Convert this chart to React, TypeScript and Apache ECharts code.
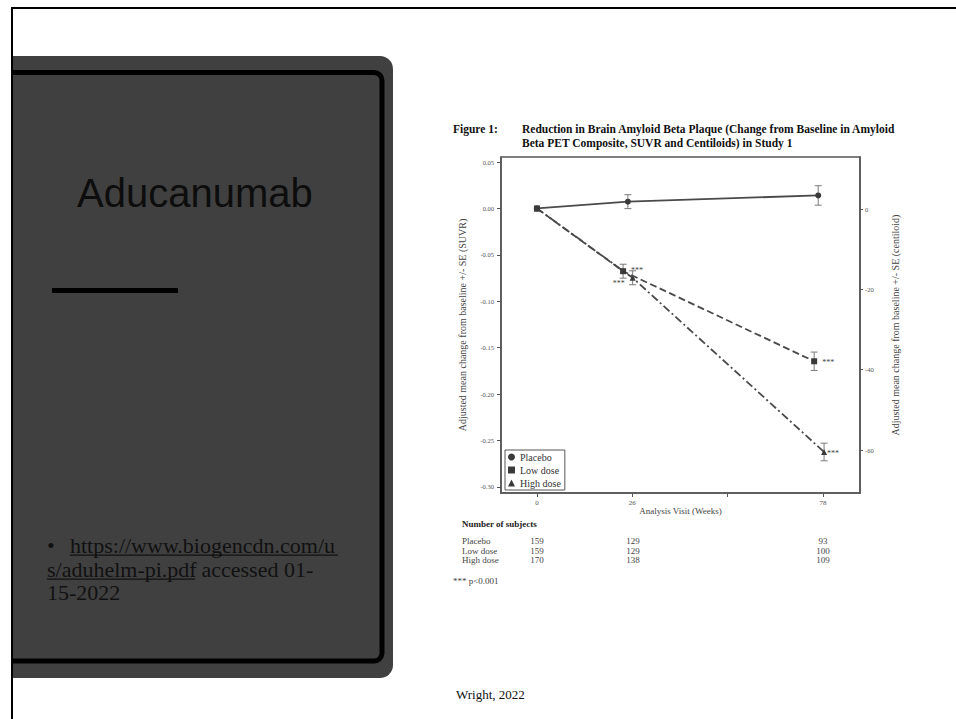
import React, { useEffect, useRef } from "react";
import * as echarts from "echarts";

// ---- data ----
const seriesNames = ["Placebo", "Low dose", "High dose"];
const weeksPlacebo = [0, 24.8, 76.7];
const weeksLow = [0, 23.5, 75.6];
const weeksHigh = [0, 26.1, 78.3];
const placeboMean = [0, 0.0073, 0.014];
const placeboSE = [0, 0.0075, 0.0105];
const lowMean = [0, -0.0676, -0.1646];
const lowSE = [0, 0.0075, 0.0099];
const highMean = [0, -0.0747, -0.2623];
const highSE = [0, 0.0075, 0.0095];
const lowSig = ["", "***", "***"];
const highSig = ["", "***", "***"];
const xTickValues = [0, 26, 52, 78];
const xLabelValues = [0, 26, 78];
const suvrTicks = [0.05, 0, -0.05, -0.1, -0.15, -0.2, -0.25, -0.3];
const centiloidTicks = [0, -20, -40, -60];
const subjectGroups = ["Placebo", "Low dose", "High dose"];
const placeboN = [159, 129, 93];
const lowN = [159, 129, 100];
const highN = [170, 138, 109];

const SERIF = "'Liberation Serif', 'Times New Roman', serif";
const SANS = "'Liberation Sans', Arial, sans-serif";

function errorBars(name: string, xs: number[], means: number[], ses: number[]) {
  const data = xs
    .map((x, i) => [x, means[i] - ses[i], means[i] + ses[i], ses[i]])
    .filter((d) => d[3] > 0);
  return {
    type: "custom",
    name: name + " SE",
    xAxisIndex: 0,
    yAxisIndex: 0,
    silent: true,
    z: 1,
    encode: { x: 0, y: [1, 2] },
    data,
    renderItem: (params: any, api: any) => {
      const x = api.value(0);
      const lo = api.coord([x, api.value(1)]);
      const hi = api.coord([x, api.value(2)]);
      const w = 3.5;
      const st = { stroke: "#7a7a7a", lineWidth: 1 };
      return {
        type: "group",
        children: [
          { type: "line", shape: { x1: lo[0], y1: lo[1], x2: hi[0], y2: hi[1] }, style: st },
          { type: "line", shape: { x1: lo[0] - w, y1: lo[1], x2: lo[0] + w, y2: lo[1] }, style: st },
          { type: "line", shape: { x1: hi[0] - w, y1: hi[1], x2: hi[0] + w, y2: hi[1] }, style: st },
        ],
      };
    },
  };
}

const sigLabelStyle: any[][] = [
  // low dose
  [null, { position: "right", distance: 5, offset: [0, -1] }, { position: "right", distance: 5, offset: [0, 1] }],
  // high dose
  [null, { position: "left", distance: 5, offset: [0, 6] }, { position: "right", distance: 0, offset: [0, 2] }],
];

function lineData(xs: number[], means: number[], sig: string[] | null, styleIdx: number) {
  return xs.map((x, i) => {
    const item: any = { value: [x, means[i]] };
    if (sig && sig[i]) {
      item.label = {
        show: true,
        formatter: sig[i],
        fontFamily: SERIF,
        fontSize: 8,
        color: "#444",
        ...sigLabelStyle[styleIdx][i],
      };
    }
    return item;
  });
}

export default function App() {
  const ref = useRef<HTMLDivElement>(null);
  useEffect(() => {
    if (!ref.current) return;
    const chart = echarts.init(ref.current, null, { renderer: "svg" });

    const tableRows = [placeboN, lowN, highN];
    const colX = [537, 633, 823];
    const rowY = [541, 550.5, 560];
    const tableTexts: any[] = [];
    subjectGroups.forEach((g, r) => {
      tableTexts.push({
        type: "text",
        x: 462,
        y: rowY[r],
        style: { text: g, fontFamily: SERIF, fontSize: 9, fill: "#444", verticalAlign: "middle", align: "left" },
      });
      tableRows[r].forEach((n, c) => {
        tableTexts.push({
          type: "text",
          x: colX[c],
          y: rowY[r],
          style: { text: String(n), fontFamily: SERIF, fontSize: 9, fill: "#444", verticalAlign: "middle", align: "center" },
        });
      });
    });

    const axisLine = { show: true, onZero: false, lineStyle: { color: "#555", width: 1.5 } };

    const option: any = {
      animation: false,
      backgroundColor: "#ffffff",
      grid: {
        left: 501,
        top: 157,
        width: 359,
        height: 336,
        show: true,
        borderColor: "#555",
        borderWidth: 1.5,
        backgroundColor: "transparent",
      },
      legend: {
        data: [
          { name: seriesNames[0], icon: "circle" },
          { name: seriesNames[1], icon: "rect" },
          { name: seriesNames[2], icon: "triangle" },
        ],
        orient: "vertical",
        left: 505,
        top: 450,
        itemWidth: 7,
        itemHeight: 7,
        itemGap: 3,
        padding: [2, 4, 2, 3],
        borderColor: "#555",
        borderWidth: 1,
        selectedMode: false,
        textStyle: { fontFamily: SERIF, fontSize: 10, color: "#333", padding: [0, 0, 0, 0] },
      },
      xAxis: {
        type: "value",
        min: -9.8,
        max: 88.1,
        name: "Analysis Visit (Weeks)",
        nameLocation: "middle",
        nameGap: 13,
        nameTextStyle: { fontFamily: SERIF, fontSize: 9, color: "#444" },
        axisLine,
        axisTick: { show: true, length: 4, customValues: xTickValues, lineStyle: { color: "#555" } },
        axisLabel: { customValues: xLabelValues, fontFamily: SERIF, fontSize: 7, color: "#555", margin: 6 },
        splitLine: { show: false },
      },
      yAxis: [
        {
          type: "value",
          min: -0.3065,
          max: 0.0554,
          position: "left",
          name: "Adjusted mean change from baseline +/- SE (SUVR)",
          nameLocation: "middle",
          nameRotate: 90,
          nameGap: 34,
          nameTextStyle: { fontFamily: SERIF, fontSize: 10, color: "#444" },
          axisLine,
          axisTick: { show: true, length: 4, customValues: suvrTicks, lineStyle: { color: "#555" } },
          axisLabel: {
            customValues: suvrTicks,
            fontFamily: SERIF,
            fontSize: 6.5,
            color: "#555",
            margin: 7,
            formatter: (v: number) => v.toFixed(2),
          },
          splitLine: { show: false },
        },
        {
          type: "value",
          min: -70.7,
          max: 12.95,
          position: "right",
          name: "Adjusted mean change from baseline +/- SE (centiloid)",
          nameLocation: "middle",
          nameRotate: 90,
          nameGap: 30,
          nameTextStyle: { fontFamily: SERIF, fontSize: 10, color: "#444" },
          axisLine,
          axisTick: { show: true, length: 3, customValues: centiloidTicks, lineStyle: { color: "#555" } },
          axisLabel: { customValues: centiloidTicks, fontFamily: SERIF, fontSize: 6.5, color: "#555", margin: 5 },
          splitLine: { show: false },
        },
      ],
      series: [
        errorBars(seriesNames[0], weeksPlacebo, placeboMean, placeboSE),
        errorBars(seriesNames[1], weeksLow, lowMean, lowSE),
        errorBars(seriesNames[2], weeksHigh, highMean, highSE),
        {
          type: "line",
          name: seriesNames[0],
          data: lineData(weeksPlacebo, placeboMean, null, 0),
          symbol: "circle",
          symbolSize: 6,
          itemStyle: { color: "#3a3a3a" },
          lineStyle: { color: "#4a4a4a", width: 1.8, type: "solid" },
          z: 3,
        },
        {
          type: "line",
          name: seriesNames[2],
          data: lineData(weeksHigh, highMean, highSig, 1),
          symbol: "triangle",
          symbolSize: 6,
          itemStyle: { color: "#3a3a3a" },
          lineStyle: { color: "#4a4a4a", width: 1.8, type: [8, 3, 2, 3] },
          z: 4,
        },
        {
          type: "line",
          name: seriesNames[1],
          data: lineData(weeksLow, lowMean, lowSig, 0),
          symbol: "rect",
          symbolSize: 6,
          itemStyle: { color: "#3a3a3a" },
          lineStyle: { color: "#4a4a4a", width: 1.8, type: [7, 3.5] },
          z: 5,
        },
      ],
      graphic: [
        // left dark panel
        {
          type: "rect",
          z: 0,
          shape: { x: 13, y: 56, width: 380, height: 622, r: [0, 13, 13, 0] },
          style: { fill: "#404040" },
        },
        {
          type: "rect",
          z: 1,
          shape: { x: -20, y: 72.5, width: 402, height: 588.5, r: 8 },
          style: { fill: "none", stroke: "#000", lineWidth: 5 },
        },
        // white cover to the left of the slide border
        { type: "rect", z: 2, shape: { x: 0, y: 0, width: 11, height: 719 }, style: { fill: "#fff" } },
        // slide border
        { type: "rect", z: 3, shape: { x: 11, y: 7, width: 945, height: 2 }, style: { fill: "#000" } },
        { type: "rect", z: 3, shape: { x: 11, y: 7, width: 2, height: 712 }, style: { fill: "#000" } },
        // panel title and rule
        {
          type: "text",
          z: 3,
          x: 77,
          y: 193,
          style: { text: "Aducanumab", fontFamily: SANS, fontSize: 40, fill: "#0d0d0d", verticalAlign: "middle", align: "left" },
        },
        { type: "rect", z: 3, shape: { x: 52, y: 288, width: 126, height: 5 }, style: { fill: "#000" } },
        // reference text
        {
          type: "text",
          z: 3,
          x: 47,
          y: 545,
          style: { text: "•", fontFamily: SERIF, fontSize: 22, fill: "#111", verticalAlign: "middle", align: "left" },
        },
        {
          type: "text",
          z: 3,
          x: 70,
          y: 545,
          style: { text: "https://www.biogencdn.com/u", fontFamily: SERIF, fontSize: 22, fill: "#111", verticalAlign: "middle", align: "left" },
        },
        { type: "rect", z: 3, shape: { x: 70, y: 554.5, width: 268, height: 1.2 }, style: { fill: "#111" } },
        {
          type: "text",
          z: 3,
          x: 47,
          y: 569,
          style: { text: "s/aduhelm-pi.pdf", fontFamily: SERIF, fontSize: 22, fill: "#111", verticalAlign: "middle", align: "left" },
        },
        { type: "rect", z: 3, shape: { x: 47, y: 578.5, width: 148, height: 1.2 }, style: { fill: "#111" } },
        {
          type: "text",
          z: 3,
          x: 196,
          y: 569,
          style: { text: " accessed 01-", fontFamily: SERIF, fontSize: 22, fill: "#111", verticalAlign: "middle", align: "left" },
        },
        {
          type: "text",
          z: 3,
          x: 47,
          y: 592.5,
          style: { text: "15-2022", fontFamily: SERIF, fontSize: 22, fill: "#111", verticalAlign: "middle", align: "left" },
        },
        // figure title
        {
          type: "text",
          z: 3,
          x: 453,
          y: 129,
          style: { text: "Figure 1:", fontFamily: SERIF, fontWeight: "bold", fontSize: 11.5, fill: "#111", verticalAlign: "middle", align: "left" },
        },
        {
          type: "text",
          z: 3,
          x: 522,
          y: 129,
          style: {
            text: "Reduction in Brain Amyloid Beta Plaque (Change from Baseline in Amyloid",
            fontFamily: SERIF,
            fontWeight: "bold",
            fontSize: 11.5,
            fill: "#111",
            verticalAlign: "middle",
            align: "left",
          },
        },
        {
          type: "text",
          z: 3,
          x: 522,
          y: 142.5,
          style: {
            text: "Beta PET Composite, SUVR and Centiloids) in Study 1",
            fontFamily: SERIF,
            fontWeight: "bold",
            fontSize: 11.5,
            fill: "#111",
            verticalAlign: "middle",
            align: "left",
          },
        },
        // subjects table
        {
          type: "text",
          z: 3,
          x: 462,
          y: 524,
          style: { text: "Number of subjects", fontFamily: SERIF, fontWeight: "bold", fontSize: 9, fill: "#222", verticalAlign: "middle", align: "left" },
        },
        ...tableTexts,
        {
          type: "text",
          z: 3,
          x: 453,
          y: 581,
          style: { text: "*** p<0.001", fontFamily: SERIF, fontSize: 9, fill: "#444", verticalAlign: "middle", align: "left" },
        },
        {
          type: "text",
          z: 3,
          x: 456,
          y: 694,
          style: { text: "Wright, 2022", fontFamily: SERIF, fontSize: 13, fill: "#111", verticalAlign: "middle", align: "left" },
        },
      ],
    };
    chart.setOption(option);
    return () => chart.dispose();
  }, []);
  return (
    <div
      ref={ref}
      style={{ position: "absolute", left: 0, top: 0, width: 956, height: 719, background: "#fff" }}
    />
  );
}
